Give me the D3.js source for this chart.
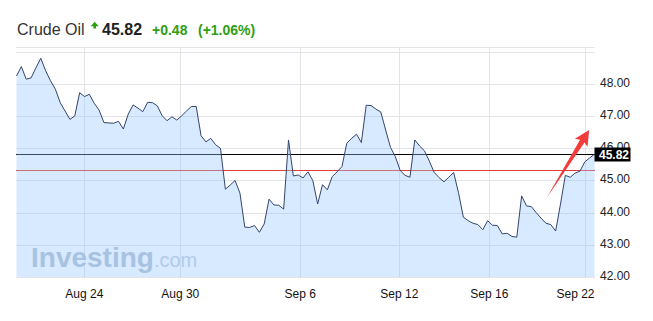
<!DOCTYPE html>
<html lang="en">
<head>
  <meta charset="UTF-8">
  <title>Crude Oil</title>
  <script src="https://d3js.org/d3.v7.min.js"></script>
  <style>
    body { margin: 0; background: #fff; font-family: Arial, "Liberation Sans", sans-serif; }
    svg { display: block; }
  </style>
</head>
<body>
  <svg width="653" height="321"></svg>

  <script>
    // crude oil, one value per bar (Aug 23 -> Sep 22)
    const prices = [
      48.25, 48.54, 48.15, 48.19, 48.50, 48.80, 48.41, 48.10, 47.84, 47.42,
      47.16, 46.90, 47.01, 47.73, 47.61, 47.68, 47.40, 47.19, 46.80, 46.79,
      46.78, 46.84, 46.60, 47.06, 47.35, 47.25, 47.14, 47.43, 47.42, 47.32,
      47.01, 46.86, 46.98, 46.88, 47.01, 47.16, 47.30, 47.30, 46.39, 46.20,
      46.31, 46.11, 46.00, 44.73, 44.86, 45.00, 44.61, 43.55, 43.54, 43.60,
      43.39, 43.65, 44.42, 44.24, 44.23, 44.11, 46.26, 45.14, 45.17, 45.08,
      45.27, 45.00, 44.27, 44.87, 44.71, 45.12, 45.27, 45.43, 46.16, 46.31,
      46.44, 46.18, 47.34, 47.33, 47.22, 47.13, 46.57, 46.03, 45.74, 45.31,
      45.16, 45.10, 46.26, 46.07, 45.92, 45.60, 45.25, 45.09, 44.96, 45.10,
      45.25, 44.62, 43.86, 43.75, 43.67, 43.63, 43.47, 43.75, 43.61, 43.60,
      43.34, 43.36, 43.26, 43.24, 44.52, 44.21, 44.19, 44.00, 43.83, 43.67,
      43.63, 43.43, 44.27, 45.16, 45.10, 45.23, 45.29, 45.58, 45.70, 45.82
    ];
    const xTickPos = [13.96, 33.72, 58.43, 78.81, 97.34, 117.1];
    const xTickLabels = ["Aug 24", "Aug 30", "Sep 6", "Sep 12", "Sep 16", "Sep 22"];
    const yTicks = [42, 43, 44, 45, 46, 47, 48, 49];
    const lastPrice = 45.82;
    const prevClose = 45.34;
    const changeText = "+0.48";
    const changePct = "(+1.06%)";
    // red annotation arrow, in data units (bar index, price)
    const arrowFrom = [109.2, 44.47];
    const arrowTo = [117.9, 46.57];

    const svg = d3.select("svg");
    const plotL = 16.5, plotR = 594.5, plotT = 47, plotB = 277;

    const x = d3.scaleLinear().domain([0, prices.length - 1]).range([plotL, plotR]);
    const y = d3.scaleLinear().domain([42, 49.15]).range([plotB, plotT]);

    // header
    const head = svg.append("g");
    head.append("text").attr("x", 17).attr("y", 35)
      .attr("font-size", "16px").attr("fill", "#333").text("Crude Oil");
    head.append("path")
      .attr("d", "M90.7,26.2 L94.7,21.8 L98.7,26.2 L96,26.2 L96,28.4 L93.4,28.4 L93.4,26.2 Z")
      .attr("fill", "#2f9e13");
    head.append("text").attr("x", 102).attr("y", 35)
      .attr("font-size", "16px").attr("font-weight", "bold").attr("fill", "#222")
      .text(lastPrice.toFixed(2));
    head.append("text").attr("x", 152).attr("y", 35)
      .attr("font-size", "14px").attr("font-weight", "bold").attr("fill", "#2f9e13")
      .text(changeText);
    head.append("text").attr("x", 198).attr("y", 35)
      .attr("font-size", "14px").attr("font-weight", "bold").attr("fill", "#2f9e13")
      .text(changePct);

    // grid
    svg.append("line")
      .attr("x1", plotL - 0.5).attr("x2", plotR + 0.5)
      .attr("y1", plotT + 0.5).attr("y2", plotT + 0.5)
      .attr("stroke", "#e3e3e8");
    svg.selectAll(".hgrid")
      .data(yTicks)
      .enter()
      .append("line")
      .attr("x1", plotL - 0.5).attr("x2", plotR + 0.5)
      .attr("y1", d => Math.round(y(d)) + 0.5).attr("y2", d => Math.round(y(d)) + 0.5)
      .attr("stroke", "#e3e3e8");
    svg.selectAll(".vgrid")
      .data(xTickPos)
      .enter()
      .append("line")
      .attr("x1", d => Math.round(x(d)) + 0.5).attr("x2", d => Math.round(x(d)) + 0.5)
      .attr("y1", plotT).attr("y2", plotB)
      .attr("stroke", "#e3e3e8");

    // reference lines (sit under the translucent area)
    svg.append("line")
      .attr("x1", plotL - 0.5).attr("x2", plotR + 2)
      .attr("y1", Math.round(y(lastPrice)) + 0.5).attr("y2", Math.round(y(lastPrice)) + 0.5)
      .attr("stroke", "#000");
    svg.append("line")
      .attr("x1", plotL - 0.5).attr("x2", plotR + 0.5)
      .attr("y1", Math.round(y(prevClose)) + 0.5).attr("y2", Math.round(y(prevClose)) + 0.5)
      .attr("stroke", "#e03c3c");

    // watermark
    const wm = svg.append("text").attr("x", 31).attr("y", 267);
    wm.append("tspan").attr("font-size", "28px").attr("font-weight", "bold")
      .attr("fill", "#b3bfcf").text("Investing");
    wm.append("tspan").attr("font-size", "20px")
      .attr("fill", "#c2cddb").text(".com");

    // area + line
    const area = d3.area()
      .x((d, i) => x(i))
      .y0(plotB)
      .y1(d => y(d));
    const line = d3.line()
      .x((d, i) => x(i))
      .y(d => y(d));

    svg.append("path")
      .datum(prices)
      .attr("d", area)
      .attr("fill", "rgb(150,200,255)")
      .attr("fill-opacity", 0.38);
    svg.append("path")
      .datum(prices)
      .attr("d", line)
      .attr("fill", "none")
      .attr("stroke", "#34446e")
      .attr("stroke-width", 1);

    // y labels
    svg.selectAll(".ylab")
      .data(yTicks.filter(d => d < 49))
      .enter()
      .append("text")
      .attr("x", 600)
      .attr("y", d => y(d) + 3)
      .attr("font-size", "12px")
      .attr("fill", "#222")
      .text(d => d.toFixed(2));

    // last price tag
    const ty = Math.round(y(lastPrice));
    svg.append("rect")
      .attr("x", 594.5).attr("y", ty - 6.5)
      .attr("width", 36).attr("height", 14)
      .attr("fill", "#000");
    svg.append("text")
      .attr("x", 599).attr("y", ty + 5)
      .attr("font-size", "12px").attr("font-weight", "bold")
      .attr("fill", "#fff")
      .text(lastPrice.toFixed(2));

    // x labels, kept inside the plot on the right
    svg.selectAll(".xlab")
      .data(xTickPos)
      .enter()
      .append("text")
      .attr("y", 298)
      .attr("font-size", "12px")
      .attr("fill", "#111")
      .text((d, i) => xTickLabels[i])
      .each(function(d) {
        const w = this.getComputedTextLength();
        let cx = x(d) - w / 2;
        if (cx + w > plotR) cx = plotR - w;
        d3.select(this).attr("x", cx);
      });

    // red arrow annotation
    const ax0 = x(arrowFrom[0]), ay0 = y(arrowFrom[1]);
    const ax1 = x(arrowTo[0]), ay1 = y(arrowTo[1]);
    const len = Math.hypot(ax1 - ax0, ay1 - ay0);
    const ux = (ax1 - ax0) / len, uy = (ay1 - ay0) / len;
    const px = -uy, py = ux;
    const headLen = 15, headW = 7.5, shaftW = 2.6;
    const bx = ax1 - ux * headLen, by = ay1 - uy * headLen;
    const pts = [
      [ax0, ay0],
      [bx + px * shaftW + ux * 2, by + py * shaftW + uy * 2],
      [bx + px * headW, by + py * headW],
      [ax1, ay1],
      [bx - px * headW, by - py * headW],
      [bx - px * shaftW + ux * 2, by - py * shaftW + uy * 2]
    ];
    svg.append("path")
      .attr("d", "M" + pts.map(p => p.join(",")).join("L") + "Z")
      .attr("fill", "#f23b3b");
  </script>
</body>
</html>
